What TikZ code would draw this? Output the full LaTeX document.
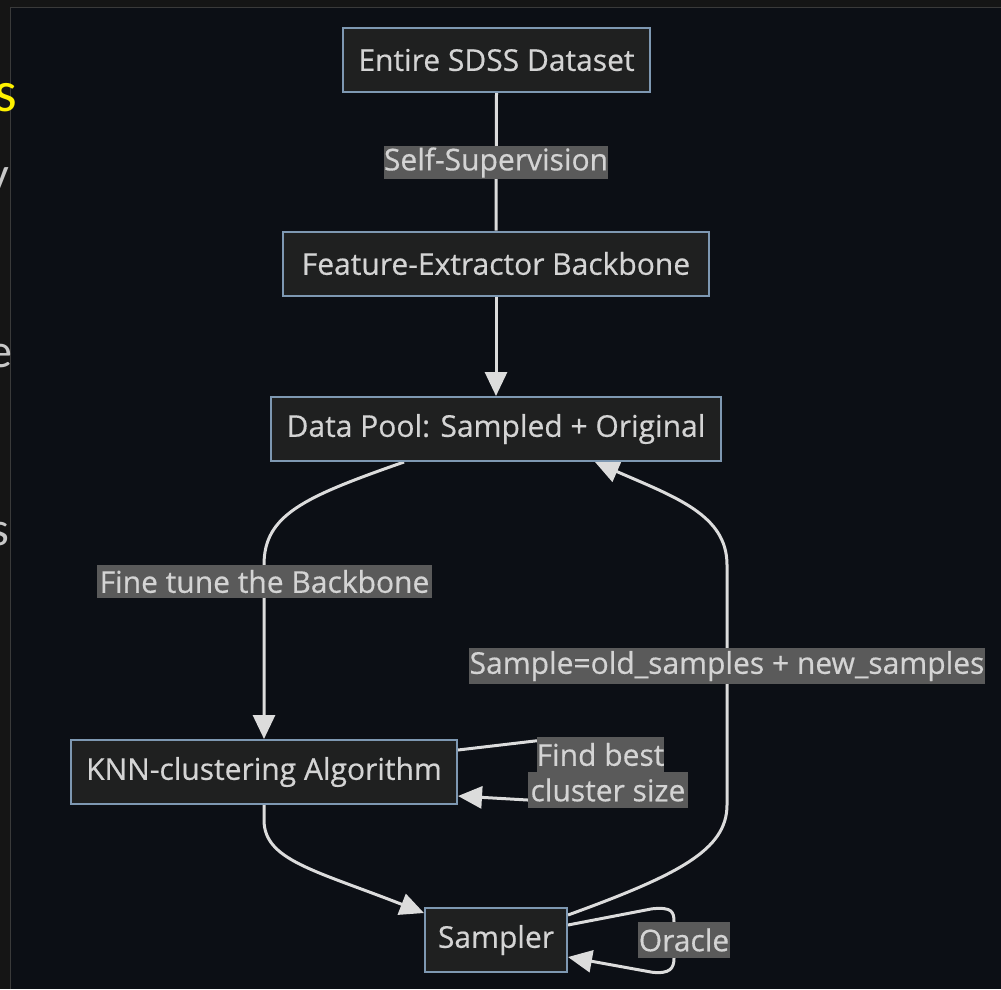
\documentclass[tikz,border=0pt]{standalone}
\usepackage{fontspec}
\setmainfont{Open Sans}[FakeBold=0.6]
\newfontfamily\slidefont{Carlito}
\newfontfamily\diafont{Open Sans}[FakeBold=0.5]
\usetikzlibrary{arrows.meta}
\pgfdeclarelayer{bottom}
\pgfdeclarelayer{edges}
\pgfsetlayers{bottom,edges,main}
\definecolor{panel}{HTML}{0C0F15}
\definecolor{strip}{HTML}{151515}
\definecolor{stripline}{HTML}{3A3A3A}
\definecolor{boxfill}{HTML}{1F2020}
\definecolor{boxline}{HTML}{7E98B2}
\definecolor{lblfill}{HTML}{5A5A5A}
\definecolor{txt}{HTML}{D4D4D4}
\definecolor{edgecol}{HTML}{DCDCDC}
\definecolor{slideyellow}{HTML}{FFF200}
\definecolor{slidegrey}{HTML}{C8C8C8}
\begin{document}
\begin{tikzpicture}[x=1pt,y=-1pt,
  box/.style={draw=boxline, line width=2pt, fill=boxfill, text=txt,
    font=\diafont\fontsize{30}{34}\selectfont, inner sep=0pt, minimum height=64pt},
  lbl/.style={fill=lblfill, text=txt, font=\diafont\fontsize{30}{34}\selectfont, inner sep=0pt},
  edgeline/.style={draw=edgecol, line width=3pt, line join=round},
  tip/.style={-{Triangle[length=24pt,width=22pt]}},
  frag/.style={anchor=base east, inner sep=0pt, font=\slidefont\fontsize{48}{52}\selectfont, text=slidegrey}]
\useasboundingbox (0,0) rectangle (1001,989);
\begin{pgfonlayer}{bottom}
  \fill[strip] (0,0) rectangle (1001,989);
  \fill[panel] (10,7) rectangle (1001,989);
  \draw[stripline, line width=1pt] (10,989) -- (10,7) -- (1001,7);
\end{pgfonlayer}
% slide fragments (cut off at the left edge, as in the reference)
\node[frag, text=slideyellow, font=\slidefont\fontsize{58}{60}\selectfont] (fs) at (17,111) {s};
\node[frag] (fy) at (9,190) {y};
\node[frag] (fe) at (13,367) {e};
\node[frag] (fss) at (9,545) {s};
% nodes
\node[box, minimum width=307pt] (ds) at (496.5,60) {Entire SDSS Dataset};
\node[box, minimum width=426pt] (fb) at (496,263.5) {Feature-Extractor Backbone};
\node[box, minimum width=450pt] (dp) at (496,429) {Data Pool: Sampled + Original};
\node[box, minimum width=386pt] (knn) at (264,772) {KNN-clustering Algorithm};
\node[box, minimum width=142pt] (sam) at (496,940) {Sampler};
% labels
\node[lbl, minimum width=224pt, minimum height=33pt] (l1) at (496,162.5) {Self-Supervision};
\node[lbl, minimum width=335pt, minimum height=33pt] (l2) at (264.5,581.5) {Fine tune the Backbone};
\node[lbl, minimum width=516pt, minimum height=36pt] (l3) at (727,666) {Sample=old\_samples + new\_samples};
\node[lbl, minimum width=123pt, minimum height=35pt] (l4a) at (600.5,754.5) {Find best};
\node[lbl, minimum width=160pt, minimum height=36pt] (l4b) at (608,790) {cluster size};
\node[lbl, minimum width=92pt, minimum height=36pt] (l5) at (684,940) {Oracle};
% edges
\begin{pgfonlayer}{edges}
  \draw[edgeline] (ds.south) -- (fb.north);
  \draw[edgeline, tip] (fb.south) -- (dp.north);
  \draw[edgeline, tip] ([xshift=-92pt]dp.south) .. controls +(-100,35) and +(0,-50) .. (knn.north |- l2.north) -- (knn.north);
  \draw[edgeline, tip] (knn.south) -- ++(0,15) .. controls +(0,40) and +(-110,-43) .. ([yshift=-6pt]sam.north west);
  \draw[edgeline, tip] ([yshift=-8pt]sam.north east) .. controls +(110,-40) and +(0,45) .. (l3.center |- knn.south) -- (l3.center |- l2.north) .. controls +(0,-50) and +(80,35) .. ([xshift=99pt]dp.south);
  \draw[edgeline, tip] ([yshift=22pt]knn.east) -- ([yshift=-4pt]l4a.north west) -- ([yshift=-8pt]l4a.north) -- ([yshift=-10pt]l4b.center) -- ([yshift=-10pt]l4b.west) -- ([yshift=-24pt]knn.east);
  \draw[edgeline, tip] ([yshift=15pt]sam.east) -- ([xshift=-32pt,yshift=13pt]l5.north) .. controls +(20,-2) and +(0,-10) .. ([xshift=-10pt]l5.north) -- ([xshift=-10pt]l5.south) .. controls +(0,10) and +(18,2) .. ([xshift=-32pt,yshift=-14pt]l5.south) -- ([yshift=-17pt]sam.east);
\end{pgfonlayer}
\end{tikzpicture}
\end{document}
